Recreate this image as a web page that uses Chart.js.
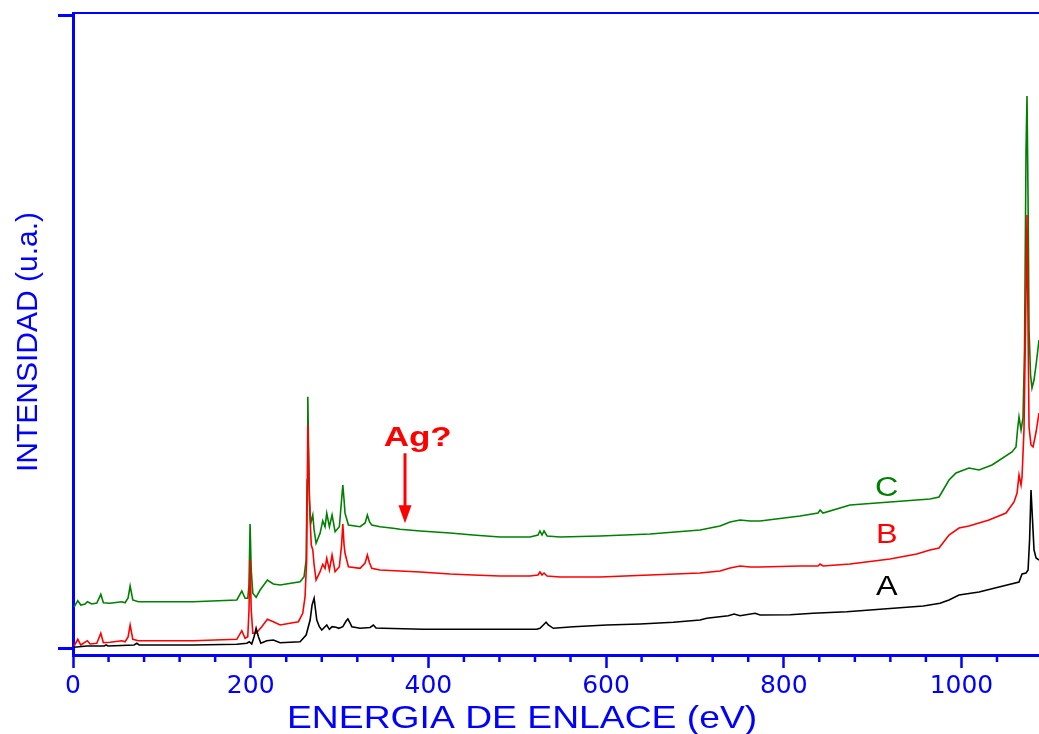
<!DOCTYPE html>
<html lang="es">
<head>
<meta charset="UTF-8">
<title>Espectros XPS - A, B, C</title>
<script src="https://cdn.jsdelivr.net/npm/chart.js"></script>
<style>
  html, body { margin: 0; padding: 0; background: #fff; overflow: hidden; }
  #xps { display: block; }
</style>
</head>
<body>
<canvas id="xps" width="1039" height="734"></canvas>
<script>
// Espectro A (negro)
const energyA = [1.2, 15.5, 35.0, 37.3, 39.5, 68.8, 71.8, 74.4, 98.0, 135.2,
  184.4, 195.6, 198.5, 201.2, 203.8, 206.1, 208.7, 211.4, 218.1, 225.5,
  233.1, 255.6, 262.4, 266.9, 269.1, 271.4, 273.0, 274.4, 277.3, 280.0,
  285.6, 288.6, 291.6, 296.1, 299.2, 303.7, 307.4, 309.4, 311.9, 313.8,
  323.1, 334.4, 338.1, 341.1, 349.0, 394.0, 450.3, 522.0, 525.6, 529.4,
  532.5, 535.0, 540.7, 563.2, 600.8, 638.3, 675.7, 705.8, 713.3, 737.6,
  744.1, 750.8, 767.7, 773.4, 807.1, 833.0, 870.9, 908.4, 957.1, 975.9,
  986.0, 997.3, 1019.8, 1042.3, 1064.8, 1068.2, 1072.7, 1075.0, 1076.7, 1078.3,
  1080.0, 1081.7, 1084.0, 1087.3, 1090];
const intensityA = [7, 20, 20, 30, 20, 30, 47, 30, 30, 30,
  37, 47, 63, 40, 113, 197, 113, 47, 73, 80,
  53, 63, 130, 280, 430, 497, 380, 280, 213, 180,
  230, 187, 213, 207, 197, 213, 270, 290, 250, 213,
  197, 205, 230, 200, 197, 187, 187, 187, 197, 230,
  257, 230, 197, 213, 230, 240, 257, 280, 297, 323,
  340, 323, 347, 330, 333, 347, 363, 387, 420, 447,
  480, 530, 560, 610, 660, 740, 750, 780, 1080, 1580,
  1280, 980, 900, 880, 870];

// Espectro B (rojo)
const energyB = [1.2, 5.4, 8.8, 16.2, 19.2, 26.8, 31.3, 34.2, 41.8, 54.9,
  58.6, 62.0, 64.3, 67.3, 73.6, 98.0, 135.2, 184.4, 190.0, 193.7,
  196.7, 198.1, 199.3, 200.6, 202.4, 206.1, 212.5, 218.8, 225.5, 233.1,
  253.7, 258.6, 261.2, 263.0, 264.3, 265.5, 266.9, 268.2, 269.9, 271.4,
  273.6, 278.1, 281.1, 283.7, 285.6, 288.6, 291.6, 295.0, 299.8, 302.3,
  303.7, 305.1, 306.2, 310.0, 323.1, 328.8, 331.3, 333.8, 336.3, 345.6,
  368.1, 390.7, 424.4, 450.3, 480.6, 514.4, 523.4, 525.6, 527.9, 530.2,
  533.6, 548.2, 593.2, 649.5, 705.8, 728.3, 739.6, 750.8, 762.1, 773.4,
  818.3, 838.6, 840.9, 844.2, 874.6, 919.6, 949.7, 964.6, 974.8, 986.0,
  997.3, 1008.5, 1031.0, 1050.2, 1059.2, 1062.6, 1064.8, 1067.1, 1068.2, 1070.4,
  1072.1, 1073.8, 1075.0, 1076.1, 1078.3, 1080.6, 1084.0, 1087.3, 1090];
const intensityB = [20, 87, 30, 73, 40, 47, 147, 53, 57, 73,
  63, 110, 230, 87, 73, 73, 73, 87, 173, 97,
  113, 380, 887, 380, 147, 147, 213, 287, 263, 230,
  263, 347, 513, 880, 2230, 1680, 1280, 1030, 980, 830,
  680, 763, 837, 797, 897, 780, 930, 763, 813, 1030,
  1240, 1030, 947, 813, 797, 850, 930, 850, 797, 780,
  770, 760, 740, 730, 720, 720, 730, 760, 730, 750,
  720, 710, 710, 730, 750, 770, 800, 820, 810, 810,
  820, 820, 840, 820, 840, 890, 940, 980, 1000, 1130,
  1200, 1220, 1280, 1350, 1460, 1550, 1730, 1630, 1710, 2180,
  3180, 4330, 3180, 2210, 2030, 2010, 2160, 2350, 2450];

// Espectro C (verde)
const energyC = [1.2, 5.4, 8.8, 13.6, 16.2, 21.2, 26.8, 31.3, 34.2, 41.8,
  54.9, 58.6, 62.0, 64.3, 67.3, 73.6, 98.0, 135.2, 184.4, 190.0,
  193.7, 196.7, 198.1, 199.3, 200.6, 202.4, 206.1, 210.6, 218.8, 225.5,
  233.1, 255.6, 260.1, 262.4, 263.5, 264.3, 265.2, 266.1, 267.6, 269.9,
  271.4, 273.6, 278.1, 281.1, 283.7, 285.6, 288.6, 291.6, 295.0, 299.8,
  302.3, 303.7, 305.1, 306.2, 310.0, 323.1, 328.8, 331.3, 333.8, 336.3,
  345.6, 360.3, 368.1, 390.7, 424.4, 450.3, 480.6, 514.4, 523.4, 525.6,
  527.9, 530.2, 533.6, 548.2, 593.2, 649.5, 705.8, 728.3, 739.6, 750.8,
  762.1, 773.4, 818.3, 838.6, 840.9, 844.2, 874.6, 919.6, 964.6, 974.8,
  986.0, 993.9, 1008.5, 1019.8, 1034.4, 1056.9, 1061.4, 1063.1, 1064.8, 1067.1,
  1069.3, 1071.0, 1072.7, 1073.8, 1075.0, 1076.1, 1077.8, 1079.4, 1081.7, 1084.0,
  1087.3, 1090];
const intensityC = [410, 473, 430, 440, 463, 440, 450, 537, 453, 447,
  463, 453, 500, 620, 480, 463, 463, 463, 480, 570,
  497, 497, 630, 1240, 780, 547, 507, 580, 680, 640,
  630, 663, 713, 880, 1680, 2513, 1980, 1480, 1247, 1330,
  1180, 1047, 1147, 1273, 1213, 1347, 1213, 1330, 1163, 1213,
  1480, 1630, 1480, 1347, 1230, 1213, 1250, 1330, 1260, 1230,
  1213, 1197, 1187, 1170, 1150, 1130, 1110, 1110, 1130, 1170,
  1130, 1170, 1120, 1110, 1120, 1140, 1180, 1220, 1260, 1280,
  1270, 1270, 1320, 1350, 1380, 1350, 1430, 1460, 1490, 1510,
  1680, 1750, 1800, 1780, 1830, 1960, 2010, 2180, 2310, 2180,
  2300, 2980, 4980, 5520, 4480, 3180, 2730, 2600, 2680, 2830,
  3080, 3250];

const xTickLabels = [0, 200, 400, 600, 800, 1000];
const yTickValues = [0, 6330];
const curveNames = ['A', 'B', 'C'];
const xTitle = 'ENERGIA DE ENLACE (eV)';
const yTitle = 'INTENSIDAD (u.a.)';

const BLUE = '#0000ff';
const lineColors = ['#000000', '#ff0000', '#008000'];

function toPoints(xs, ys) {
    return xs.map((x, i) => ({ x: x, y: ys[i] }));
}

// draws text a bit wider than the font, like the original plot
function stretchedText(ctx, text, px, py, font, color, sx, angle) {
    ctx.save();
    ctx.translate(px, py);
    if (angle) ctx.rotate(angle);
    ctx.scale(sx, 1);
    ctx.font = font;
    ctx.fillStyle = color;
    ctx.textAlign = 'center';
    ctx.textBaseline = 'middle';
    ctx.fillText(text, 0, 0);
    ctx.restore();
}

const minorTicks = {
    id: 'minorTicks',
    afterDraw(chart) {
        const x = chart.scales.x;
        const ctx = chart.ctx;
        ctx.save();
        ctx.strokeStyle = BLUE;
        ctx.lineWidth = 2.5;
        x.ticks.forEach(t => {
            if (t.value % 200 === 0) return;
            const px = x.getPixelForValue(t.value);
            ctx.beginPath();
            ctx.moveTo(px, x.top);
            ctx.lineTo(px, x.top + 7);
            ctx.stroke();
        });
        ctx.restore();
    }
};

// axis titles (drawn here so they can sit where the original put them)
const axisTitles = {
    id: 'axisTitles',
    afterDraw(chart) {
        const { ctx, scales: { x, y } } = chart;
        stretchedText(ctx, xTitle, x.getPixelForValue(505.5), x.bottom + 15.5,
            '32px "Liberation Sans"', BLUE, 1.165);
        stretchedText(ctx, yTitle, 29, y.getPixelForValue(3060),
            '30px "Liberation Sans"', BLUE, 1, -Math.PI / 2);
    }
};

const notes = {
    id: 'notes',
    afterDatasetsDraw(chart) {
        const { ctx, scales: { x, y } } = chart;
        // etiquetas de las curvas
        const labelY = [605, 1125, 1590];
        curveNames.forEach((name, i) => {
            stretchedText(ctx, name, x.getPixelForValue(916), y.getPixelForValue(labelY[i]),
                '27px "Liberation Sans"', lineColors[i], 1.2);
        });
        // "Ag?" con flecha
        stretchedText(ctx, 'Ag?', x.getPixelForValue(388), y.getPixelForValue(2100),
            'bold 28px "Liberation Sans"', '#ff0000', 1.25);
        const ax = x.getPixelForValue(373.7);
        const top = y.getPixelForValue(1947);
        const tip = y.getPixelForValue(1247);
        ctx.save();
        ctx.strokeStyle = '#ff0000';
        ctx.fillStyle = '#ff0000';
        ctx.lineWidth = 3;
        ctx.beginPath();
        ctx.moveTo(ax, top);
        ctx.lineTo(ax, tip - 14);
        ctx.stroke();
        ctx.beginPath();
        ctx.moveTo(ax - 6.5, tip - 18);
        ctx.lineTo(ax + 6.5, tip - 18);
        ctx.lineTo(ax, tip);
        ctx.closePath();
        ctx.fill();
        ctx.restore();
    }
};

new Chart(document.getElementById('xps'), {
    type: 'line',
    data: {
        datasets: [
            { label: 'A', data: toPoints(energyA, intensityA), borderColor: lineColors[0], xAxisID: 'x', yAxisID: 'y' },
            { label: 'B', data: toPoints(energyB, intensityB), borderColor: lineColors[1], xAxisID: 'x', yAxisID: 'y' },
            { label: 'C', data: toPoints(energyC, intensityC), borderColor: lineColors[2], xAxisID: 'x', yAxisID: 'y' }
        ]
    },
    options: {
        responsive: false,
        animation: false,
        // room for the hand-drawn axis titles
        layout: { padding: { top: 13, right: 0, bottom: 30, left: 58 } },
        plugins: {
            legend: { display: false },
            tooltip: { enabled: false }
        },
        elements: {
            point: { radius: 0 },
            line: { tension: 0, borderWidth: 1.6 }
        },
        scales: {
            x: {
                type: 'linear',
                position: 'bottom',
                min: 0,
                max: 1087.3,
                afterBuildTicks: s => { s.ticks = s.ticks.filter(t => t.value % 40 === 0); },
                ticks: {
                    stepSize: 40,
                    autoSkip: false,
                    maxRotation: 0,
                    padding: 5.5,
                    color: BLUE,
                    font: { family: 'DejaVu Sans', size: 25, lineHeight: 1 },
                    callback: v => xTickLabels.includes(v) ? String(v) : ''
                },
                grid: {
                    drawOnChartArea: false,
                    drawTicks: true,
                    tickLength: 13,
                    tickWidth: 2.5,
                    tickColor: c => (c.tick && c.tick.value % 200 === 0) ? BLUE : 'rgba(0,0,0,0)'
                },
                border: { display: true, color: BLUE, width: 3 }
            },
            xTop: {
                type: 'linear',
                position: 'top',
                min: 0,
                max: 1087.3,
                ticks: { display: false },
                grid: { display: false, drawTicks: false },
                border: { display: true, color: BLUE, width: 2 }
            },
            y: {
                type: 'linear',
                min: -70,
                max: 6350,
                afterBuildTicks: s => { s.ticks = yTickValues.map(v => ({ value: v })); },
                ticks: { display: false },
                grid: {
                    drawOnChartArea: false,
                    drawTicks: true,
                    tickLength: 15,
                    tickWidth: 3,
                    tickColor: BLUE
                },
                border: { display: true, color: BLUE, width: 3 }
            }
        }
    },
    plugins: [minorTicks, axisTitles, notes]
});
</script>
</body>
</html>
